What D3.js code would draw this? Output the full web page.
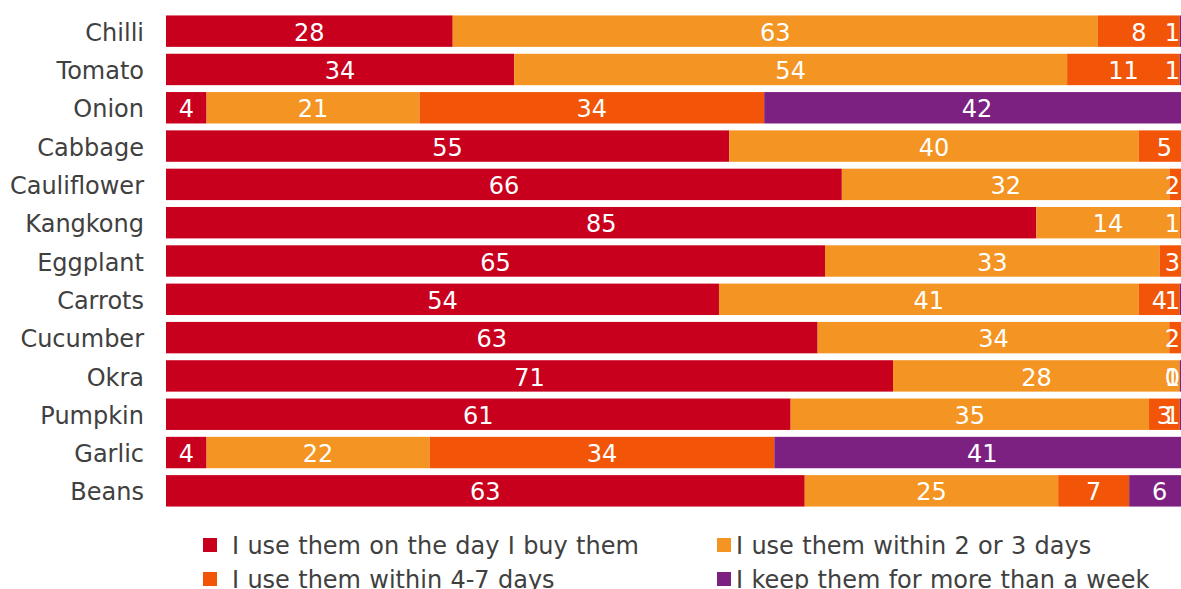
<!DOCTYPE html>
<html>
<head>
<meta charset="utf-8">
<script src="https://cdn.jsdelivr.net/npm/d3@7"></script>
<style>
  html, body { margin: 0; padding: 0; background: #ffffff; overflow: hidden; }
  svg { display: block; font-family: "DejaVu Sans", Verdana, sans-serif; }
</style>
</head>
<body>
<svg id="chart" width="1181" height="589"></svg>
<script>
// Vegetables, top to bottom
const categories = ["Chilli", "Tomato", "Onion", "Cabbage", "Cauliflower", "Kangkong", "Eggplant",
                    "Carrots", "Cucumber", "Okra", "Pumpkin", "Garlic", "Beans"];

// Share of respondents (%) per storage habit; null = no answer in that group
const sameDay      = [28, 34,  4, 55, 66, 85, 65, 54, 63, 71, 61,  4, 63];
const twoThreeDays = [63, 54, 21, 40, 32, 14, 33, 41, 34, 28, 35, 22, 25];
const fourSevenDays = [8, 11, 34,  5,  2,  1,  3,  4,  2,  0,  3, 34,  7];
const overAWeek    = [ 1,  1, 42, null, null, null, null, 1, null, 1, 1, 41, 6];

const seriesNames = ["I use them on the day I buy them", "I use them within 2 or 3 days",
                     "I use them within 4-7 days", "I keep them for more than a week"];
const seriesColors = ["#c8001e", "#f49422", "#f25507", "#7c2181"];

const seriesValues = [sameDay, twoThreeDays, fourSevenDays, overAWeek];

const W = 1181, H = 589;
const FONT_SIZE = "24px";
const svg = d3.select("#chart");

// Rows as objects keyed by series index
const rows = categories.map((c, i) => {
  const r = { category: c };
  seriesValues.forEach((vals, s) => { r["s" + s] = vals[i] == null ? 0 : vals[i]; r["raw" + s] = vals[i]; });
  return r;
});

// 100% stacked layout
const keys = seriesValues.map((_, s) => "s" + s);
const stacked = d3.stack().keys(keys).offset(d3.stackOffsetExpand)(rows);

const x = d3.scaleLinear().domain([0, 1]).range([166, 1190]);
const y = d3.scaleBand().domain(categories).range([12, 510]).paddingInner(0.18).paddingOuter(0.09);

// Category axis (labels only)
const yAxis = d3.axisLeft(y).tickSize(0).tickPadding(0);
const gy = svg.append("g").attr("transform", "translate(144,0)").call(yAxis);
gy.select(".domain").remove();
gy.selectAll("text")
  .attr("fill", "#404040")
  .style("font-size", FONT_SIZE)
  .style("font-family", "'DejaVu Sans', Verdana, sans-serif")
  .attr("dy", "0.4em");

// Bars
const layers = svg.append("g").selectAll("g")
  .data(stacked)
  .join("g")
  .attr("fill", (d, i) => seriesColors[i]);

layers.selectAll("rect")
  .data(d => d.map(p => ({ p, cat: p.data.category })))
  .join("rect")
  .attr("x", d => x(d.p[0]))
  .attr("y", d => y(d.cat))
  .attr("width", d => Math.max(0, x(d.p[1]) - x(d.p[0])))
  .attr("height", y.bandwidth());

// Value labels, kept inside the visible area on the right
const labelLayer = svg.append("g");
stacked.forEach((layer, s) => {
  layer.forEach(p => {
    const raw = p.data["raw" + s];
    if (raw == null) return;
    const cx = (x(p[0]) + x(p[1])) / 2;
    const t = labelLayer.append("text")
      .attr("y", y(p.data.category) + y.bandwidth() / 2)
      .attr("dy", "0.4em")
      .attr("text-anchor", "middle")
      .attr("fill", "#ffffff")
      .style("font-size", FONT_SIZE)
      .text(raw);
    const half = t.node().getComputedTextLength() / 2;
    t.attr("x", Math.min(cx, W - half - 1));
  });
});

// Legend: two columns, two rows
const legendPos = [
  { x: 203, y: 545 }, { x: 717, y: 545 },
  { x: 203, y: 579 }, { x: 717, y: 579 }
];
const legend = svg.append("g").selectAll("g")
  .data(seriesNames)
  .join("g")
  .attr("transform", (d, i) => `translate(${legendPos[i].x},${legendPos[i].y})`);

legend.append("rect")
  .attr("x", 0).attr("y", -7)
  .attr("width", 14).attr("height", 14)
  .attr("fill", (d, i) => seriesColors[i]);

legend.append("text")
  .attr("x", (d, i) => i % 2 === 0 ? 29 : 19)
  .attr("dy", "0.38em")
  .attr("fill", "#404040")
  .style("font-size", FONT_SIZE)
  .style("word-spacing", "0.7px")
  .text(d => d);
</script>
</body>
</html>
